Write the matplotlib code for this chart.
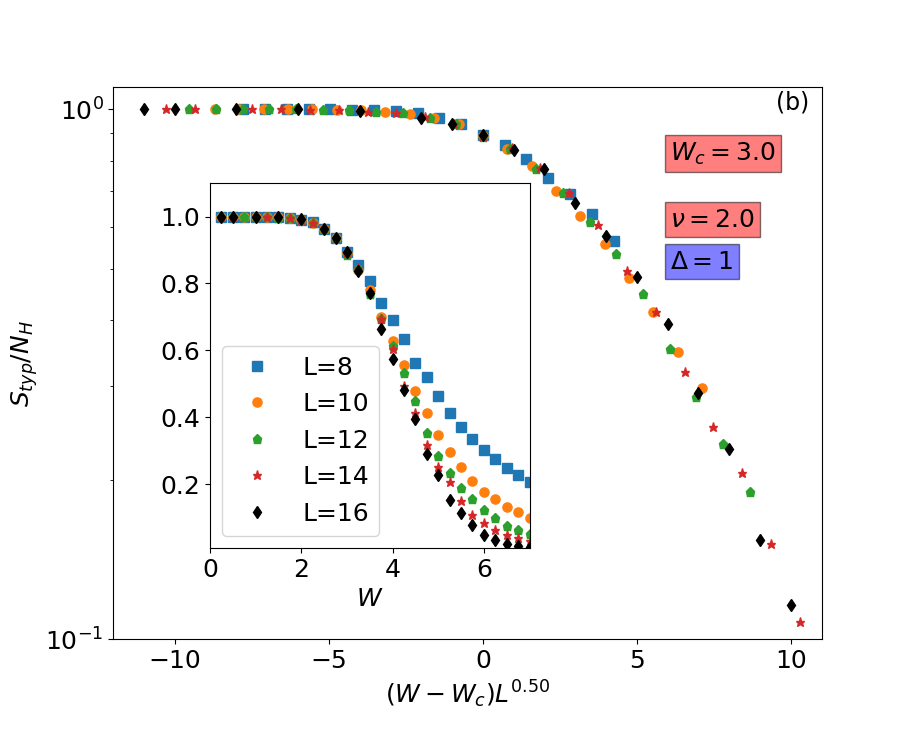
import numpy as np
import matplotlib
matplotlib.use('Agg')
import matplotlib.pyplot as plt
import matplotlib.ticker as ticker

nan = np.nan

# disorder strengths (same grid for every system size)
W = [0.25, 0.5, 0.75, 1.0, 1.25, 1.5, 1.75, 2.0, 2.25, 2.5, 2.75, 3.0, 3.25, 3.5,
     3.75, 4.0, 4.25, 4.5, 4.75, 5.0, 5.25, 5.5, 5.75, 6.0, 6.25, 6.5, 6.75, 7.0]

sizes = [8, 10, 12, 14, 16]
labels = ['L=8', 'L=10', 'L=12', 'L=14', 'L=16']

S_L8 = [1.0, 1.0, 1.0, 1.0, 0.999, 0.998, 0.996, 0.991, 0.983, 0.963, 0.937, 0.894, 0.855, 0.806,
        0.742, 0.691, 0.633, 0.564, 0.520, 0.464, 0.412, 0.371, 0.335, 0.304, 0.275, 0.248, 0.229, 0.207]
S_L10 = [1.0, 1.0, 1.0, 1.0, 0.999, 0.998, 0.995, 0.990, 0.981, 0.962, 0.937, 0.892, 0.840, 0.781,
         0.701, 0.628, 0.556, 0.480, 0.414, 0.349, 0.298, 0.251, 0.211, 0.178, 0.157, 0.133, 0.118, 0.100]
S_L12 = [1.0, 1.0, 1.0, 1.0, 0.999, 0.997, 0.995, 0.990, 0.982, 0.964, 0.936, 0.886, 0.843, 0.770,
         0.695, 0.613, 0.532, 0.449, 0.353, 0.286, 0.234, 0.190, 0.155, 0.123, 0.099, 0.077, 0.064, 0.053]
S_L14 = [1.0, 1.0, nan, 1.0, 0.999, 0.998, 0.995, 0.990, 0.982, 0.966, 0.937, 0.890, 0.846, 0.776,
         0.695, 0.604, 0.495, 0.414, 0.319, 0.252, 0.206, 0.151, 0.108, 0.086, 0.064, 0.050, 0.041, 0.032]
S_L16 = [1.0, 1.0, nan, 1.0, nan, 0.999, nan, 0.993, nan, 0.962, 0.937, 0.893, 0.836, 0.772,
         0.665, 0.576, 0.483, 0.394, 0.291, 0.229, 0.154, 0.116, 0.078, 0.050, 0.034, 0.023, 0.016, 0.013]
S_all = [S_L8, S_L10, S_L12, S_L14, S_L16]

# largest W used in the scaling collapse for each L
main_wmax = [4.5, 5.25, 5.5, 7.0, 7.0]

Wc = 3.0
nu = 2.0
Delta = 1

markers = ['s', 'o', 'p', '*', 'd']
colors = ['#1f77b4', '#ff7f0e', '#2ca02c', '#d62728', 'k']

fig = plt.figure(figsize=(9.13, 7.31), dpi=100)
ax = fig.add_axes([0.124, 0.1255, 0.776, 0.7551])

Warr = np.array(W)
for L, S, wmax, m, c in zip(sizes, S_all, main_wmax, markers, colors):
    S = np.array(S)
    keep = Warr <= wmax
    x = (Warr[keep] - Wc) * L ** (1.0 / nu)
    ax.plot(x, S[keep], m, color=c, ms=6.6, linestyle='none')

ax.set_yscale('log')
ax.set_ylim(0.1, 1.1)
ax.set_xlim(-12, 11)
ax.yaxis.set_minor_formatter(ticker.NullFormatter())
ax.tick_params(labelsize=18)
ax.set_xlabel(r'$(W-W_c)L^{%.2f}$' % (1.0 / nu), fontsize=18)
ax.set_ylabel(r'$S_{typ}/N_H$', fontsize=18)

ax.text(0.982, 0.995, '(b)', transform=ax.transAxes, ha='right', va='top', fontsize=17)
ax.text(0.786, 0.880, r'$W_c=%.1f$' % Wc, transform=ax.transAxes, ha='left', va='center',
        fontsize=18, bbox=dict(facecolor='red', alpha=0.5))
ax.text(0.786, 0.760, r'$\nu=%.1f$' % nu, transform=ax.transAxes, ha='left', va='center',
        fontsize=18, bbox=dict(facecolor='red', alpha=0.5))
ax.text(0.786, 0.684, r'$\Delta=%d$' % Delta, transform=ax.transAxes, ha='left', va='center',
        fontsize=18, bbox=dict(facecolor='blue', alpha=0.5))

# inset: raw data vs W
ins = fig.add_axes([0.23, 0.2503, 0.35, 0.4993])
for S, m, c, lab in zip(S_all, markers, colors, labels):
    ins.plot(W, S, m, color=c, ms=6.6, linestyle='none', label=lab)
ins.set_xlim(0, 7)
ins.set_ylim(0.01, 1.1)
ins.tick_params(labelsize=18)
ins.set_xlabel(r'$W$', fontsize=18)
ins.legend(loc='lower left', fontsize=18)

fig.savefig('out.png', dpi=100)
